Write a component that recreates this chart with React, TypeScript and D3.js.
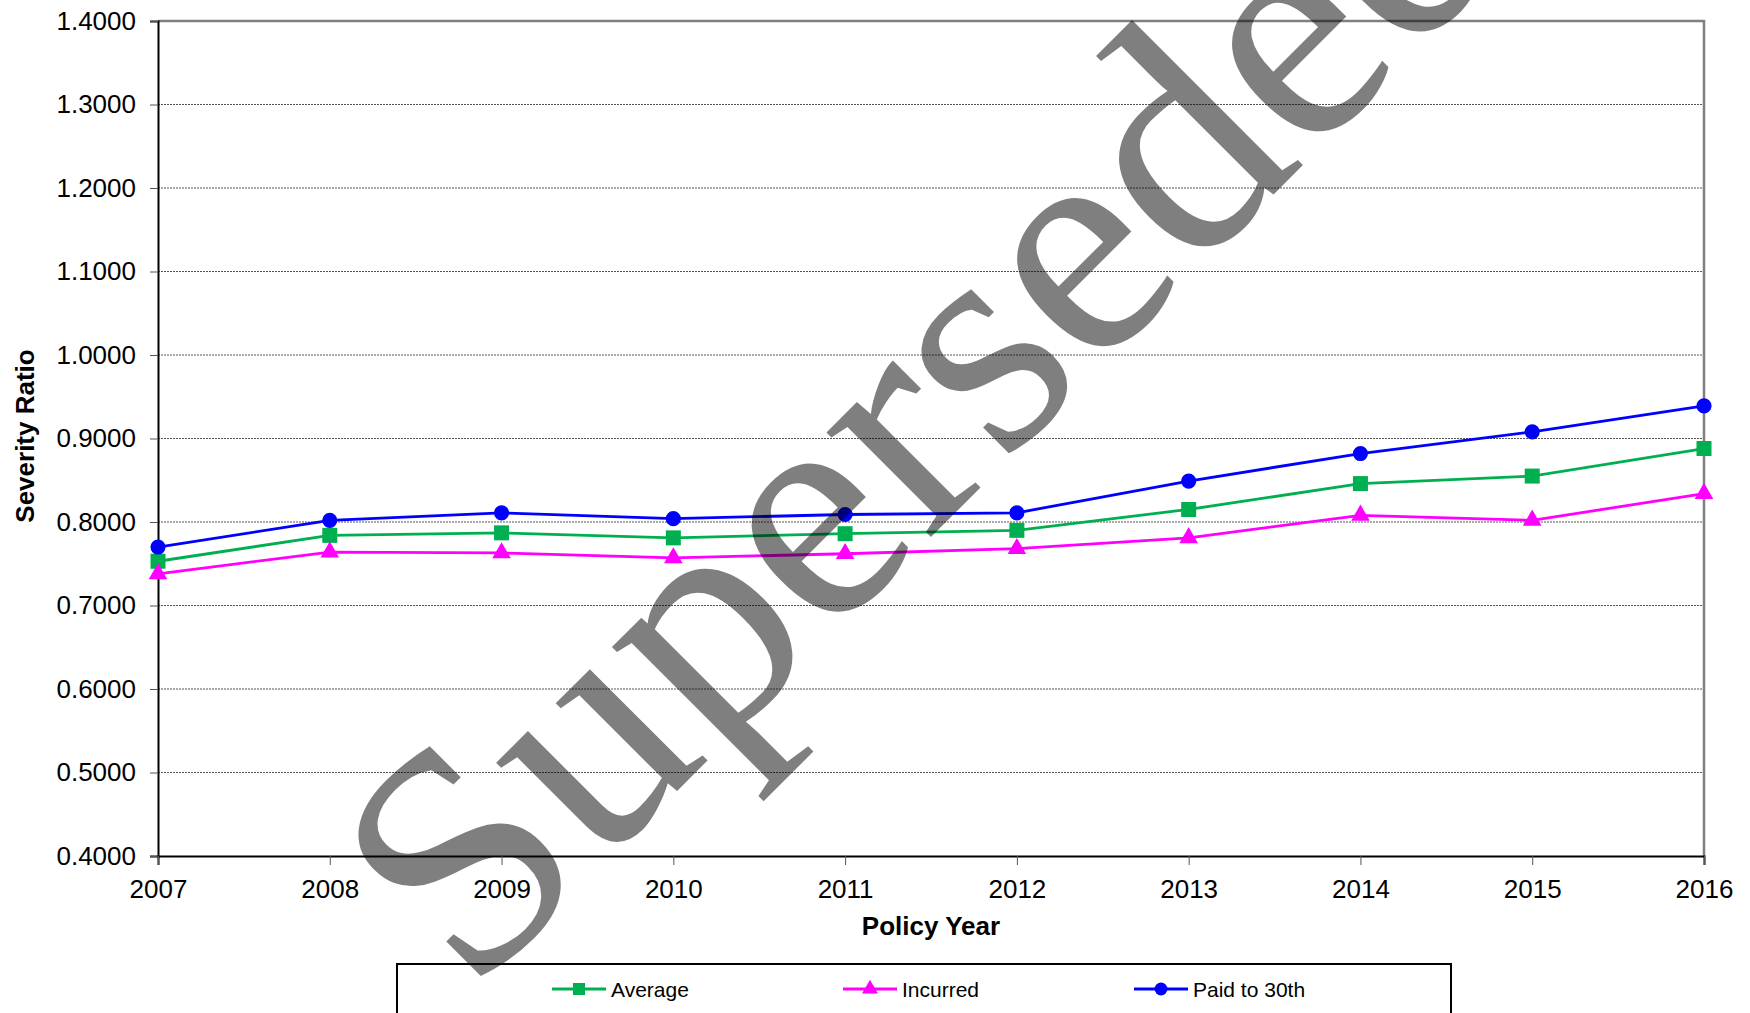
// @ts-nocheck
import React, { useRef, useEffect } from 'react';
import * as d3 from 'd3';

const years = [2007, 2008, 2009, 2010, 2011, 2012, 2013, 2014, 2015, 2016];
const averageVals = [0.753, 0.784, 0.787, 0.781, 0.786, 0.790, 0.815, 0.846, 0.855, 0.888];
const incurredVals = [0.738, 0.764, 0.763, 0.757, 0.762, 0.768, 0.781, 0.808, 0.802, 0.834];
const paidVals = [0.770, 0.802, 0.811, 0.804, 0.809, 0.811, 0.849, 0.882, 0.908, 0.939];
const yTicks = [0.4, 0.5, 0.6, 0.7, 0.8, 0.9, 1.0, 1.1, 1.2, 1.3, 1.4];

const series = [
  { name: 'Average', values: averageVals, color: '#00B050', marker: 'square' },
  { name: 'Incurred', values: incurredVals, color: '#FF00FF', marker: 'triangle' },
  { name: 'Paid to 30th', values: paidVals, color: '#0000FF', marker: 'circle' },
];

const W = 1750;
const H = 1013;
const FONT = '"Liberation Sans", Arial, sans-serif';

const App = () => {
  const svgRef = useRef(null);

  useEffect(() => {
    const svg = d3.select(svgRef.current);
    svg.selectAll('*').remove();

    const left = 158, right = 1704, top = 21, bottom = 856;
    const x = d3.scaleLinear().domain([2007, 2016]).range([left, right]);
    const y = d3.scaleLinear().domain([0.4, 1.4]).range([bottom, top]);

    svg.append('rect').attr('width', W).attr('height', H).attr('fill', '#fff');

    // grid
    svg.append('g')
      .selectAll('line')
      .data(yTicks.slice(1, -1))
      .enter().append('line')
      .attr('x1', left).attr('x2', right)
      .attr('y1', d => y(d)).attr('y2', d => y(d))
      .attr('stroke', '#555').attr('stroke-width', 1)
      .attr('stroke-dasharray', '2,1');

    // plot border (gray top/right)
    svg.append('path')
      .attr('d', `M${left},${top}H${right}V${bottom}`)
      .attr('fill', 'none').attr('stroke', '#808080').attr('stroke-width', 2.5);

    // y axis
    const yAxis = svg.append('g').attr('transform', `translate(${left},0)`)
      .call(d3.axisLeft(y).tickValues(yTicks).tickFormat(d3.format('.4f')).tickSizeOuter(0).tickSize(8).tickPadding(14));
    yAxis.select('.domain').attr('stroke', '#000').attr('stroke-width', 2);
    yAxis.selectAll('.tick line').attr('stroke', '#555');
    yAxis.selectAll('text').attr('font-family', FONT).attr('font-size', 26).attr('fill', '#000');

    // x axis
    const xAxis = svg.append('g').attr('transform', `translate(0,${bottom})`)
      .call(d3.axisBottom(x).tickValues(years).tickFormat(d3.format('d')).tickSizeOuter(0).tickSize(9).tickPadding(15));
    xAxis.select('.domain').attr('stroke', '#000').attr('stroke-width', 2);
    xAxis.selectAll('.tick line').attr('stroke', '#555');
    xAxis.selectAll('text').attr('font-family', FONT).attr('font-size', 26).attr('fill', '#000');

    // axis titles
    svg.append('text')
      .attr('x', (left + right) / 2).attr('y', 935)
      .attr('text-anchor', 'middle')
      .attr('font-family', FONT).attr('font-size', 26).attr('font-weight', 'bold')
      .text('Policy Year');
    svg.append('text')
      .attr('transform', 'translate(34,436) rotate(-90)')
      .attr('text-anchor', 'middle')
      .attr('font-family', FONT).attr('font-size', 26).attr('font-weight', 'bold')
      .text('Severity Ratio');

    const symbolFor = (m, size) => {
      const t = m === 'square' ? d3.symbolSquare : m === 'triangle' ? d3.symbolTriangle : d3.symbolCircle;
      return d3.symbol().type(t).size(size)();
    };

    const line = d3.line().x((d, i) => x(years[i])).y(d => y(d));

    series.forEach(s => {
      svg.append('path')
        .attr('d', line(s.values))
        .attr('fill', 'none').attr('stroke', s.color).attr('stroke-width', 2.8);
      svg.append('g')
        .selectAll('path')
        .data(s.values)
        .enter().append('path')
        .attr('transform', (d, i) => `translate(${x(years[i])},${y(d)})`)
        .attr('d', symbolFor(s.marker, s.marker === 'circle' ? 180 : s.marker === 'square' ? 225 : 150))
        .attr('fill', s.color);
    });

    // legend
    const lg = svg.append('g');
    lg.append('rect')
      .attr('x', 397).attr('y', 964).attr('width', 1054).attr('height', 70)
      .attr('fill', '#fff').attr('stroke', '#000').attr('stroke-width', 2);
    series.forEach((s, i) => {
      const lx = 552 + i * 291;
      const g = lg.append('g').attr('transform', `translate(${lx},989)`);
      g.append('line').attr('x1', 0).attr('x2', 54).attr('stroke', s.color).attr('stroke-width', 2.8);
      g.append('path').attr('transform', 'translate(27,0)')
        .attr('d', symbolFor(s.marker, s.marker === 'circle' ? 130 : s.marker === 'square' ? 144 : 110))
        .attr('fill', s.color);
      g.append('text').attr('x', 59).attr('y', 7.5)
        .attr('font-family', FONT).attr('font-size', 21)
        .text(s.name);
    });

    // watermark
    svg.append('text')
      .attr('transform', 'translate(471,997) rotate(-45)')
      .attr('font-family', '"Liberation Serif", "Times New Roman", serif')
      .attr('font-size', 322)
      .attr('fill', '#000').attr('fill-opacity', 0.5)
      .text('Superseded');
  }, []);

  return (
    <svg ref={svgRef} width={W} height={H}
      style={{ position: 'absolute', left: 0, top: 0, display: 'block' }} />
  );
};

export default App;
